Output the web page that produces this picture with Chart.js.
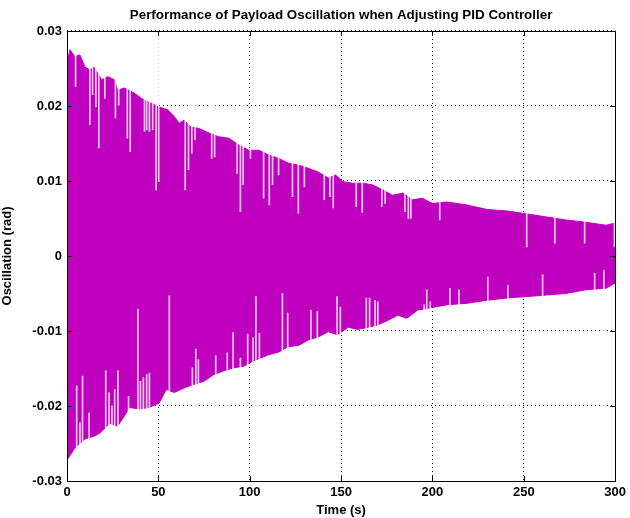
<!DOCTYPE html>
<html>
<head>
<meta charset="utf-8">
<script src="https://cdn.jsdelivr.net/npm/chart.js@4"></script>
<style>
  html, body { margin: 0; padding: 0; background: #fff; }
  #wrap { width: 630px; height: 518px; }
</style>
</head>
<body>
<div id="wrap"><canvas id="chart" width="630" height="518"></canvas></div>
<script>
// envelope of the oscillation (time in s, value in rad)
const upperTime = [0.3, 1.6, 4.3, 7.1, 9.8, 12.5, 14.7, 19, 22.3, 26, 27.7, 31.5, 37, 40.8, 45, 50, 55, 58.7, 61.4, 64, 68, 72.3, 77.7, 83, 88.6, 94, 99.5, 105, 110, 116, 121, 127, 132, 137.5, 143, 147, 151, 156.5, 162, 167, 173, 178, 184, 189, 194.5, 200, 208, 219, 230, 241, 252, 262.5, 273, 284, 295, 300];
const upperPeak = [0.026, 0.0275, 0.0266, 0.0268, 0.0252, 0.0248, 0.0252, 0.0235, 0.0239, 0.0235, 0.0221, 0.0224, 0.0217, 0.021, 0.0205, 0.0199, 0.0195, 0.0186, 0.0177, 0.0181, 0.0172, 0.017, 0.0164, 0.0159, 0.0157, 0.0148, 0.0141, 0.0141, 0.0135, 0.013, 0.0124, 0.0121, 0.0117, 0.0112, 0.0104, 0.0108, 0.0099, 0.0097, 0.0097, 0.0095, 0.0088, 0.0081, 0.0084, 0.0075, 0.0077, 0.0070, 0.0072, 0.0068, 0.0062, 0.006, 0.0056, 0.0052, 0.0048, 0.0045, 0.0041, 0.0044];

const lowerTime = [0.3, 4.3, 9.8, 15.2, 18, 23.4, 27.7, 31.5, 34.2, 39.7, 45, 50.5, 54.3, 58.7, 64, 69.6, 75, 80.4, 86, 91.3, 96.7, 102, 110, 116, 121, 127, 132, 137.5, 143, 148, 154, 159, 165, 170, 175.5, 181, 186, 192, 197, 208, 219, 230, 241, 252, 262.5, 273, 284, 295, 300];
const lowerPeak = [-0.0271, -0.0256, -0.0244, -0.024, -0.0236, -0.0223, -0.0227, -0.0213, -0.0202, -0.0204, -0.0202, -0.0196, -0.0178, -0.0182, -0.0176, -0.0171, -0.0167, -0.0158, -0.0153, -0.0149, -0.0147, -0.014, -0.0132, -0.0128, -0.0121, -0.0119, -0.0112, -0.0108, -0.0101, -0.0105, -0.0095, -0.0098, -0.0095, -0.0092, -0.0086, -0.0079, -0.0083, -0.0072, -0.0070, -0.0065, -0.0063, -0.0059, -0.0056, -0.0054, -0.0052, -0.0050, -0.0045, -0.0043, -0.0036];

// pale gaps where a sampled peak fell short of the envelope
const topGapTime = [4.7, 12.5, 14.0, 15.8, 17.4, 20.7, 26.5, 28.3, 33.0, 34.6, 42.4, 43.6, 45.1, 46.9, 48.8, 50.2, 64.7, 66.5, 68.3, 70.1, 79.2, 80.8, 93.1, 94.9, 96.4, 100.4, 107.6, 110.7, 112.5, 115.8, 123.4, 126.6, 129.9, 140.8, 143.9, 145.7, 158.3, 161.6, 172.3, 174.1, 184.9, 186.8, 188.2, 204, 251.6, 267, 283.3, 299.6];
const topGapEnd = [0.0226, 0.0175, 0.0215, 0.0199, 0.0144, 0.021, 0.0184, 0.0201, 0.0157, 0.0139, 0.0166, 0.0168, 0.0166, 0.0168, 0.0088, 0.0099, 0.0088, 0.0115, 0.0137, 0.0155, 0.013, 0.0132, 0.011, 0.0059, 0.0095, 0.013, 0.0077, 0.0068, 0.0095, 0.0108, 0.0079, 0.0057, 0.0092, 0.0075, 0.0079, 0.0064, 0.0066, 0.0058, 0.0066, 0.007, 0.0059, 0.005, 0.005, 0.0048, 0.0012, 0.0017, 0.0017, 0.0012];

const bottomGapTime = [5.3, 7.1, 8.5, 12.1, 21.2, 23.0, 24.6, 26.1, 27.9, 33.7, 38.8, 40.2, 41.8, 43.6, 45.1, 56.0, 68.6, 70.5, 71.9, 81.4, 87.7, 90.9, 94.9, 98.9, 101.8, 103.4, 105.3, 117.9, 120.8, 133.5, 137.0, 147.8, 149.6, 163.8, 165.6, 168.6, 170.1, 195.5, 196.9, 198.8, 209.6, 214.5, 230.3, 241.3, 260.3, 288.8, 293.8];
const bottomGapEnd = [-0.0173, -0.0222, -0.016, -0.0209, -0.0153, -0.0182, -0.02, -0.0178, -0.0153, -0.0187, -0.0071, -0.0167, -0.0162, -0.0158, -0.0156, -0.0053, -0.0149, -0.0124, -0.0138, -0.0133, -0.0129, -0.0102, -0.0136, -0.0104, -0.0109, -0.0054, -0.0103, -0.005, -0.0076, -0.0072, -0.0074, -0.0054, -0.0068, -0.0056, -0.0056, -0.0059, -0.0061, -0.0065, -0.0045, -0.0061, -0.0043, -0.0045, -0.0028, -0.0039, -0.0025, -0.0023, -0.0019];

const xTicks = [0, 50, 100, 150, 200, 250, 300];
const yTicks = [-0.03, -0.02, -0.01, 0, 0.01, 0.02, 0.03];
const yTickLabels = ['-0.03', '-0.02', '-0.01', '0', '0.01', '0.02', '0.03'];

const magenta = 'rgb(191,0,191)';
const font = { family: '"Liberation Sans", Arial, sans-serif', size: 13, weight: 'bold' };

function pairs(xs, ys) {
    return xs.map((x, i) => ({ x: x, y: ys[i] }));
}

const yMin = yTicks[0];
const yMax = yTicks[yTicks.length - 1];
const gapBars = topGapTime.map((t, i) => ({ x: t, y: [topGapEnd[i], yMax] }))
    .concat(bottomGapTime.map((t, i) => ({ x: t, y: [yMin, bottomGapEnd[i]] })));

// matlab style box with inward ticks on all four sides
const boxPlugin = {
    id: 'box',
    afterDraw(chart) {
        const { ctx, chartArea: a, scales } = chart;
        ctx.save();
        ctx.strokeStyle = '#000';
        ctx.lineWidth = 1;
        ctx.strokeRect(Math.round(a.left) + 0.5, Math.round(a.top) + 0.5,
            Math.round(a.right - a.left), Math.round(a.bottom - a.top));
        ctx.beginPath();
        const len = 5;
        xTicks.forEach(v => {
            const px = Math.round(scales.x.getPixelForValue(v)) + 0.5;
            ctx.moveTo(px, a.bottom); ctx.lineTo(px, a.bottom - len);
            ctx.moveTo(px, a.top); ctx.lineTo(px, a.top + len);
        });
        yTicks.forEach(v => {
            const py = Math.round(scales.y.getPixelForValue(v)) + 0.5;
            ctx.moveTo(a.left, py); ctx.lineTo(a.left + len, py);
            ctx.moveTo(a.right, py); ctx.lineTo(a.right - len, py);
        });
        ctx.stroke();
        ctx.restore();
    }
};

new Chart(document.getElementById('chart'), {
    type: 'line',
    data: {
        datasets: [
            {
                type: 'bar',
                label: 'gaps',
                data: gapBars,
                backgroundColor: 'rgba(255,255,255,0.8)',
                barThickness: 1,
                grouped: false,
                order: 0
            },
            {
                label: 'upper',
                data: pairs(upperTime, upperPeak),
                borderColor: magenta,
                backgroundColor: magenta,
                borderWidth: 1,
                pointRadius: 0,
                tension: 0,
                fill: 'origin',
                order: 1
            },
            {
                label: 'lower',
                data: pairs(lowerTime, lowerPeak),
                borderColor: magenta,
                backgroundColor: magenta,
                borderWidth: 1,
                pointRadius: 0,
                tension: 0,
                fill: 'origin',
                order: 2
            }
        ]
    },
    options: {
        responsive: false,
        animation: false,
        devicePixelRatio: 1,
        layout: { padding: { left: 0, right: 11, top: 0, bottom: 0 } },
        plugins: {
            legend: { display: false },
            tooltip: { enabled: false },
            title: {
                display: true,
                fullSize: false,
                text: 'Performance of Payload Oscillation when Adjusting PID Controller',
                color: '#000',
                font: { family: font.family, size: 13.4, weight: 'bold' },
                padding: { top: 7, bottom: 7.9 }
            }
        },
        scales: {
            x: {
                type: 'linear',
                min: 0,
                max: 300,
                offset: false,
                afterBuildTicks: s => { s.ticks = xTicks.map(v => ({ value: v })); },
                afterFit: s => { s.height = 37; },
                grid: { color: '#000', lineWidth: 1, drawTicks: false, offset: false },
                border: { display: false, dash: [1, 3] },
                ticks: { color: '#000', font: font, padding: 4, maxRotation: 0 },
                title: { display: true, text: 'Time (s)', color: '#000', font: font, padding: { top: 0, bottom: 0 } }
            },
            y: {
                type: 'linear',
                min: yMin,
                max: yMax,
                afterBuildTicks: s => { s.ticks = yTicks.map(v => ({ value: v })); },
                afterFit: s => { s.width = 67; },
                grid: { color: '#000', lineWidth: 1, drawTicks: false },
                border: { display: false, dash: [1, 3] },
                ticks: {
                    color: '#000',
                    font: font,
                    padding: 5,
                    callback: v => yTickLabels[yTicks.indexOf(v)]
                },
                title: { display: true, text: 'Oscillation (rad)', color: '#000', font: font, padding: { top: 0, bottom: 7 } }
            }
        }
    },
    plugins: [boxPlugin]
});
</script>
</body>
</html>
